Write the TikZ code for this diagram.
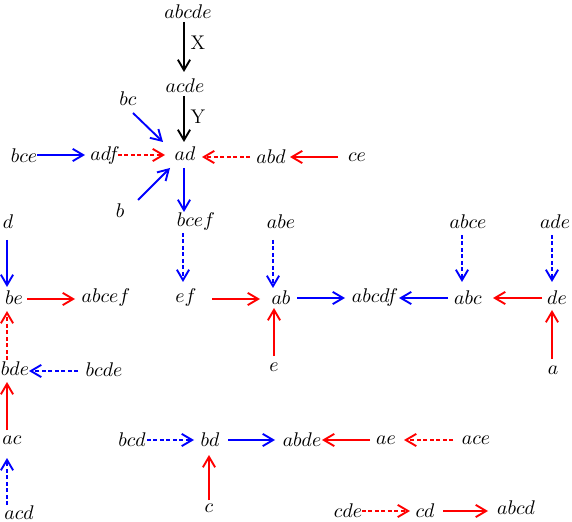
\RequirePackage{fix-cm}
\documentclass[tikz,border=0pt]{standalone}
\usetikzlibrary{arrows.meta}
\newcommand\conn[5]{\draw[#1] ([shift={(#3)}]#2.center) -- ([shift={(#5)}]#4.center);}
\begin{document}
\begin{tikzpicture}[x=0.5556pt,y=-0.5556pt,
  lbl/.style={inner sep=0pt,font=\fontsize{11}{13}\selectfont},
  arr/.style={line width=1.05pt,-{Straight Barb[length=5.8pt,width=6.8pt,line width=1.05pt]}},
  blk/.style={arr,black},
  bl/.style={arr,blue},
  rd/.style={arr,red},
  bld/.style={arr,blue,dash pattern=on 2.2pt off 1.4pt},
  rdd/.style={arr,red,dash pattern=on 2.2pt off 1.4pt}]
\useasboundingbox (0,0) rectangle (572,522);
\node[lbl] (abcde) at (188,12) {$abcde$};
\node[lbl] (acde) at (185,86) {$acde$};
\node[lbl] (ad) at (185,154) {$ad$};
\node[lbl] (bc) at (128,99) {$bc$};
\node[lbl] (bce) at (24,156) {$bce$};
\node[lbl] (adf) at (105,156) {$adf$};
\node[lbl] (abd) at (271,157) {$abd$};
\node[lbl] (ce) at (357,157) {$ce$};
\node[lbl] (b) at (120,211) {$b$};
\node[lbl] (bcef) at (196,222) {$bcef$};
\node[lbl] (d) at (8,222) {$d$};
\node[lbl] (abe) at (281,222) {$abe$};
\node[lbl] (abce) at (468,222) {$abce$};
\node[lbl] (ade) at (555,222) {$ade$};
\node[lbl] (be) at (14,298) {$be$};
\node[lbl] (abcef) at (106,298) {$abcef$};
\node[lbl] (ef) at (186,298) {$ef$};
\node[lbl] (ab) at (281,298) {$ab$};
\node[lbl] (abcdf) at (375,298) {$abcdf$};
\node[lbl] (abc) at (468,298) {$abc$};
\node[lbl] (de) at (557,298) {$de$};
\node[lbl] (bde) at (15,369) {$bde$};
\node[lbl] (bcde) at (104,370) {$bcde$};
\node[lbl] (e) at (274,367) {$e$};
\node[lbl] (a) at (553,370) {$a$};
\node[lbl] (ac) at (12,440) {$ac$};
\node[lbl] (bcd) at (132,440) {$bcd$};
\node[lbl] (bd) at (210,440) {$bd$};
\node[lbl] (abde) at (302,440) {$abde$};
\node[lbl] (ae) at (386,440) {$ae$};
\node[lbl] (ace) at (476,440) {$ace$};
\node[lbl] (acd) at (19,513) {$acd$};
\node[lbl] (c) at (209,508) {$c$};
\node[lbl] (cde) at (348,511) {$cde$};
\node[lbl] (cd) at (425,511) {$cd$};
\node[lbl] (abcd) at (516,508) {$abcd$};
\node[lbl] (X) at (198,43) {X};
\node[lbl] (Y) at (198,117) {Y};
\conn{blk}{abcde}{-4,10}{acde}{-1,-14}
\conn{blk}{acde}{-1,10}{ad}{-1,-12}
\conn{bl}{bc}{5,14}{ad}{-22,-12}
\conn{bl}{b}{18,-11}{ad}{-15,14}
\conn{bl}{bce}{13,-1}{adf}{-20,-1}
\conn{rdd}{adf}{13,-1}{ad}{-20,1}
\conn{rdd}{abd}{-21,0}{ad}{17,3}
\conn{rd}{ce}{-19,0}{abd}{19,0}
\conn{bl}{ad}{-1,14}{bcef}{-12,-10}
\conn{bld}{bcef}{-13,11}{ef}{-3,-16}
\conn{bld}{abe}{-8,18}{ab}{-8,-10}
\conn{rd}{ef}{26,1}{ab}{-21,1}
\conn{bl}{ab}{16,0}{abcdf}{-30,0}
\conn{bl}{abc}{-20,0}{abcdf}{24,0}
\conn{rd}{de}{-15,0}{abc}{25,0}
\conn{bld}{abce}{-6,13}{abc}{-6,-16}
\conn{bld}{ade}{-3,13}{de}{-5,-16}
\conn{rd}{a}{-1,-11}{de}{-5,12}
\conn{rd}{e}{0,-11}{ab}{-7,10}
\conn{bl}{d}{-1,18}{be}{-7,-11}
\conn{rd}{be}{13,1}{abcef}{-31,1}
\conn{rdd}{bde}{-8,-9}{be}{-7,13}
\conn{bld}{bcde}{-26,1}{bde}{14,2}
\conn{rd}{ac}{-5,-10}{bde}{-8,13}
\conn{bld}{acd}{-12,-8}{ac}{-5,18}
\conn{bld}{bcd}{15,0}{bd}{-16,0}
\conn{bl}{bd}{18,0}{abde}{-27,0}
\conn{rd}{ae}{-16,0}{abde}{20,0}
\conn{rdd}{ace}{-23,0}{ae}{18,0}
\conn{rd}{c}{0,-8}{bd}{-1,15}
\conn{rdd}{cde}{14,0}{cd}{-15,0}
\conn{rd}{cd}{18,0}{abcd}{-28,3}
\end{tikzpicture}
\end{document}
